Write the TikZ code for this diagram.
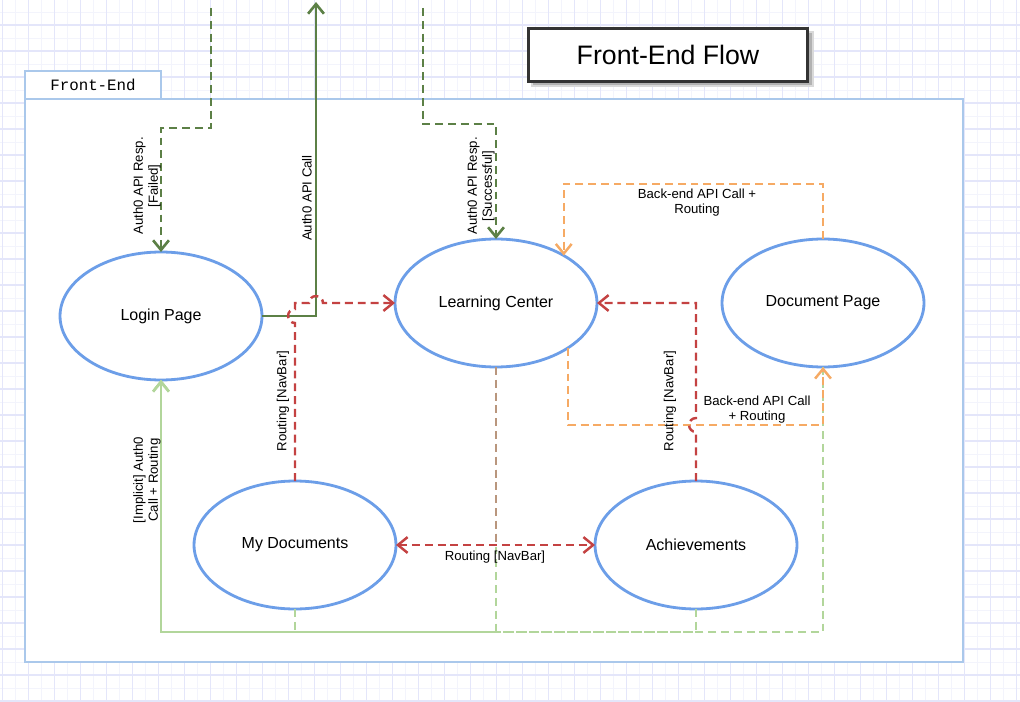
\documentclass[tikz,border=0pt]{standalone}
\usepackage{fontspec}
\setmainfont{Liberation Sans}
\setmonofont{Liberation Mono}
\usetikzlibrary{arrows.meta,shapes.geometric}
\definecolor{pageblue}{RGB}{108,158,232}
\definecolor{framebl}{RGB}{170,200,235}
\definecolor{authgreen}{RGB}{92,128,70}
\definecolor{navred}{RGB}{196,66,66}
\definecolor{backorange}{RGB}{246,170,100}
\definecolor{implgreen}{RGB}{178,214,155}
\definecolor{mixbrown}{RGB}{185,150,125}
\definecolor{gridmaj}{RGB}{228,230,250}
\definecolor{gridmin}{RGB}{243,244,252}
\begin{document}
\begin{tikzpicture}[x=0.02cm,y=-0.02cm,
  page/.style={ellipse,draw=pageblue,fill=white,line width=1.6pt,minimum width=4.04cm,minimum height=2.56cm,inner sep=0pt,outer sep=0pt,font=\fontsize{9.1}{11}\selectfont},
  lbl/.style={font=\fontsize{7.5}{8.6}\selectfont,align=center,inner sep=0pt},
  dsh/.style={dash pattern=on 4.5pt off 2.8pt},
  endtip/.style={-{Straight Barb[length=5.5pt,width=9pt]}},
  twotip/.style={{Straight Barb[length=5.5pt,width=9pt]}-{Straight Barb[length=5.5pt,width=9pt]}},
  authline/.style={authgreen,line width=1.5pt,endtip},
  navline/.style={navred,line width=1.4pt,dsh},
  backline/.style={backorange,line width=1.4pt,dsh,endtip},
  implline/.style={implgreen,dsh,endtip}]
\useasboundingbox (0,0) rectangle (1020,702);
\fill[white] (0,0) rectangle (1020,702);
\foreach \k in {0,...,78} \draw[gridmin,line width=0.5pt] ({2.7+13*\k},0) -- ({2.7+13*\k},702);
\foreach \k in {0,...,53} \draw[gridmin,line width=0.5pt] (0,{12+13*\k}) -- (1020,{12+13*\k});
\foreach \k in {0,...,39} \draw[gridmaj,line width=0.8pt] ({2.7+26*\k},0) -- ({2.7+26*\k},702);
\foreach \k in {0,...,26} \draw[gridmaj,line width=0.8pt] (0,{25+26*\k}) -- (1020,{25+26*\k});
\draw[framebl,fill=white,line width=1.3pt] (25,99) rectangle (963,662);
\node[draw=framebl,fill=white,line width=1.3pt,minimum width=2.72cm,minimum height=0.56cm,font=\ttfamily\fontsize{9}{11}\selectfont] (tab) at (93,85) {Front-End};
\fill[black!15] (531,31) rectangle (814,87);
\fill[black!30] (533,33) rectangle (812,85);
\node[draw=black!80,fill=white,line width=1.7pt,minimum width=5.6cm,minimum height=1.06cm,font=\fontsize{15.2}{18}\selectfont] (ttl) at (668,55) {Front-End Flow};
\node[page] (LP) at (161,316) {Login Page};
\node[page] (LC) at (496,303) {Learning Center};
\node[page] (DP) at (823,303) {Document Page};
\node[page] (MD) at (295,545) {My Documents};
\node[page] (AC) at (696,545) {Achievements};
\coordinate (failsrc) at (211,8);
\coordinate (calltop) at (316,2);
\coordinate (succsrc) at (423,8);
\coordinate (bline) at (161,632);
\coordinate (oline) at (823,425);
\foreach \n in {MD,LC,AC} \draw[implline,line width=1pt] (\n.south) |- (bline) -- (LP.south);
\draw[implline,line width=1.5pt] (DP.south) |- (bline) -- (LP.south);
\draw[mixbrown,dsh,line width=1.2pt] (LC.south) -- (LC.south |- MD.east);
\draw[authline,dsh] (failsrc) -- ++(0,120) -| (LP.north);
\draw[authline] (LP.east) -| (calltop);
\draw[authline,dsh] (succsrc) -- ++(0,116) -| (LC.north);
\draw[backline] (DP.north) -- ++(0,-55) -| (LC.35);
\draw[backline] (LC.-32) |- (oline) -- (DP.south);
\draw[navline,endtip] (MD.north) -- ++(0,-158) arc[start angle=90,end angle=270,radius=7] |- ++(14,-6) arc[start angle=180,end angle=360,radius=7] -- (LC.west);
\draw[navline,endtip] (AC.north) -- ++(0,-49) arc[start angle=90,end angle=270,radius=7] |- (LC.east);
\draw[navline,twotip] (MD.east) -- (AC.west);
\node[lbl,rotate=90] (lfail) at (147,186) {Auth0 API Resp.\\{}[Failed]};
\node[lbl,rotate=90] (lcall) at (307,198) {Auth0 API Call};
\node[lbl,rotate=90] (lsucc) at (481,186) {Auth0 API Resp.\\{}[Successful]};
\node[lbl] (lbtop) at (697,203) {Back-end API Call +\\Routing};
\node[lbl] (lbbot) at (757,410) {Back-end API Call\\+ Routing};
\node[lbl,rotate=90] (lnavmd) at (283,401) {Routing [NavBar]};
\node[lbl,rotate=90] (lnavac) at (670,401) {Routing [NavBar]};
\node[lbl] (lnavmid) at (495,557) {Routing [NavBar]};
\node[lbl,rotate=90] (limpl) at (147,480) {[Implicit] Auth0\\Call + Routing};
\end{tikzpicture}
\end{document}
